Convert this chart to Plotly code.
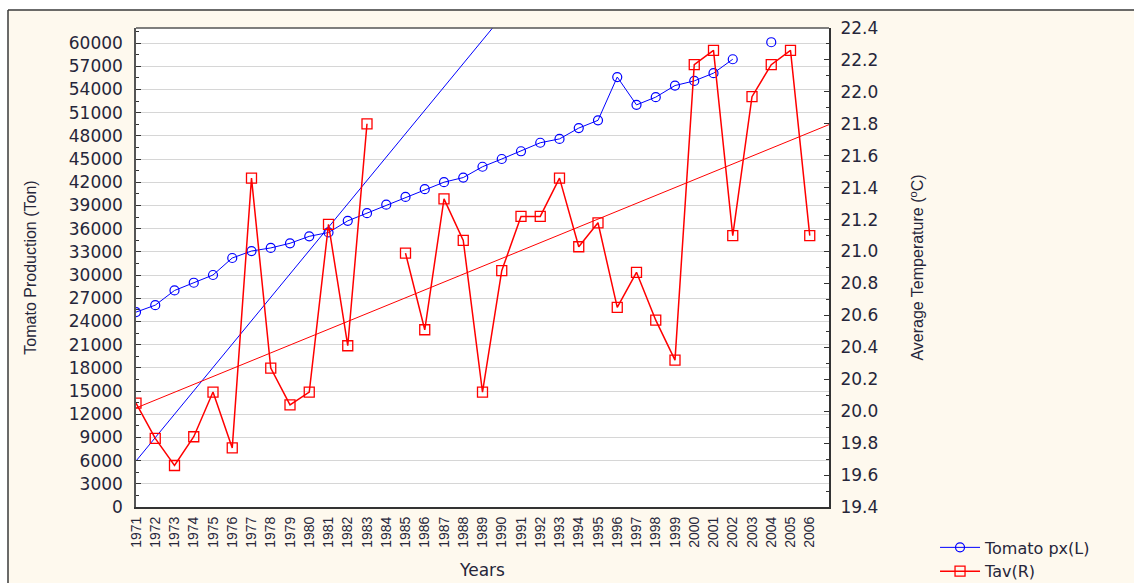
import plotly.graph_objects as go

# ---------------- data ----------------
years = list(range(1971, 2007))
year_labels = [str(y) for y in years]

tomato_px = [25200, 26100, 28000, 29000, 30000, 32200, 33100, 33500, 34100, 35000,
             35500, 37000, 38000, 39100, 40100, 41100, 42000, 42600, 44000, 45000,
             46000, 47100, 47600, 49000, 50000, 55600, 52000, 53000, 54500, 55100,
             56100, 57900, None, 60100, None, None]

tav = [20.05, 19.83, 19.66, 19.84, 20.12, 19.77, 21.46, 20.27, 20.04, 20.12,
       21.17, 20.41, 21.80, None, 20.99, 20.51, 21.33, 21.07, 20.12, 20.88,
       21.22, 21.22, 21.46, 21.03, 21.18, 20.65, 20.87, 20.57, 20.32, 22.17,
       22.26, 21.10, 21.97, 22.17, 22.26, 21.10]

# fitted lines as drawn in the original (value at 1971 and slope per year)
trend_years = [1971, 2007]
tomato_fit_intercept = 5950
tomato_fit_slope = 3023
tav_fit_intercept = 20.02
tav_fit_slope = 0.0493

tomato_fit = [tomato_fit_intercept + tomato_fit_slope * (y - 1971) for y in trend_years]
tav_fit = [tav_fit_intercept + tav_fit_slope * (y - 1971) for y in trend_years]

left_ticks = list(range(0, 60001, 3000))
left_labels = [str(v) for v in left_ticks]
right_ticks = [round(19.4 + 0.2 * i, 1) for i in range(16)]
right_labels = [f"{v:.1f}" for v in right_ticks]

# ---------------- styling ----------------
BLUE = "#0000FF"
RED = "#FF0000"
CREAM = "#FEF9EE"
TXT = "#26263a"
HFONT = "DejaVu Sans"
VFONT = "Liberation Sans"

fig = go.Figure()

fig.add_trace(go.Scatter(
    x=years, y=tomato_px, name="Tomato px(L)", mode="lines+markers",
    line=dict(color=BLUE, width=1),
    marker=dict(symbol="circle-open", size=9, color=BLUE, line=dict(width=1.2)),
    connectgaps=False, yaxis="y"))

fig.add_trace(go.Scatter(
    x=years, y=tav, name="Tav(R)", mode="lines+markers",
    line=dict(color=RED, width=1.5),
    marker=dict(symbol="square-open", size=10, color=RED, line=dict(width=1.3)),
    connectgaps=False, yaxis="y2"))

fig.add_trace(go.Scatter(
    x=trend_years, y=tomato_fit, mode="lines", showlegend=False,
    line=dict(color=BLUE, width=1), yaxis="y", hoverinfo="skip"))

fig.add_trace(go.Scatter(
    x=trend_years, y=tav_fit, mode="lines", showlegend=False,
    line=dict(color=RED, width=1), yaxis="y2", hoverinfo="skip"))

fig.update_layout(
    width=1134, height=583,
    margin=dict(l=136, r=305, t=28, b=76, autoexpand=False),
    paper_bgcolor=CREAM,
    plot_bgcolor="white",
    showlegend=True,
    legend=dict(
        x=1.153, y=-0.049, xanchor="left", yanchor="top",
        bgcolor="rgba(0,0,0,0)", borderwidth=0,
        font=dict(family=HFONT, size=16, color=TXT),
        itemwidth=40, tracegroupgap=0,
    ),
    xaxis=dict(
        range=[1971.0, 2007.0],
        tickmode="array", tickvals=years, ticktext=year_labels,
        tickangle=-90,
        tickfont=dict(family=VFONT, size=14, color=TXT),
        showgrid=False, zeroline=False,
        showline=True, linecolor="#333333", linewidth=2,
        ticks="", ticklabelstandoff=2,
        title=dict(text="Years", font=dict(family=HFONT, size=17, color=TXT), standoff=17),
        automargin=False,
    ),
    yaxis=dict(
        range=[0, 61940],
        tickmode="array", tickvals=left_ticks, ticktext=left_labels,
        tickfont=dict(family=HFONT, size=17, color=TXT),
        showgrid=True, gridcolor="#D6D6D6", gridwidth=1,
        zeroline=False,
        showline=True, linecolor="#555555", linewidth=1.5,
        ticks="inside", ticklen=5, tickcolor="#333333", tickwidth=1,
        minor=dict(dtick=1500, tick0=0, ticks="inside", ticklen=3, tickcolor="#333333", showgrid=False),
        ticklabelstandoff=8,
        title=dict(text="Tomato Production (Ton)", font=dict(family=VFONT, size=16, color=TXT), standoff=28),
        automargin=False,
    ),
    yaxis2=dict(
        range=[19.4, 22.4], overlaying="y", side="right",
        tickmode="array", tickvals=right_ticks, ticktext=right_labels,
        tickfont=dict(family=HFONT, size=17, color=TXT),
        showgrid=False, zeroline=False,
        showline=True, linecolor="#333333", linewidth=2,
        ticks="inside", ticklen=5, tickcolor="#333333", tickwidth=1,
        minor=dict(dtick=0.1, tick0=19.4, ticks="inside", ticklen=3, tickcolor="#333333", showgrid=False),
        ticklabelstandoff=6,
        title=dict(text="Average Temperature (<sup>o</sup>C)", font=dict(family=VFONT, size=16, color=TXT), standoff=35),
        automargin=False,
    ),
    shapes=[
        # plot-area top border
        dict(type="line", xref="paper", yref="paper", x0=0, x1=1, y0=1, y1=1,
             line=dict(color="#555555", width=1.5), layer="above"),
        # white strip above the outer frame
        dict(type="rect", xref="paper", yref="paper", x0=-0.3, x1=1.6, y0=1.0376, y1=1.2,
             fillcolor="white", line=dict(width=0), layer="below"),
        # white strip left of the outer frame
        dict(type="rect", xref="paper", yref="paper", x0=-0.3, x1=-0.1847, y0=-0.3, y1=1.2,
             fillcolor="white", line=dict(width=0), layer="below"),
        # outer frame lines
        dict(type="line", xref="paper", yref="paper", x0=-0.1847, x1=1.6, y0=1.0376, y1=1.0376,
             line=dict(color="#3a3a3a", width=1.5), layer="above"),
        dict(type="line", xref="paper", yref="paper", x0=-0.1847, x1=-0.1847, y0=-0.3, y1=1.0376,
             line=dict(color="#3a3a3a", width=1.5), layer="above"),
    ],
)

fig.write_html(
    "out.html",
    config={"displayModeBar": False},
    post_script="document.body.style.margin='0';document.body.style.overflow='hidden';",
)
